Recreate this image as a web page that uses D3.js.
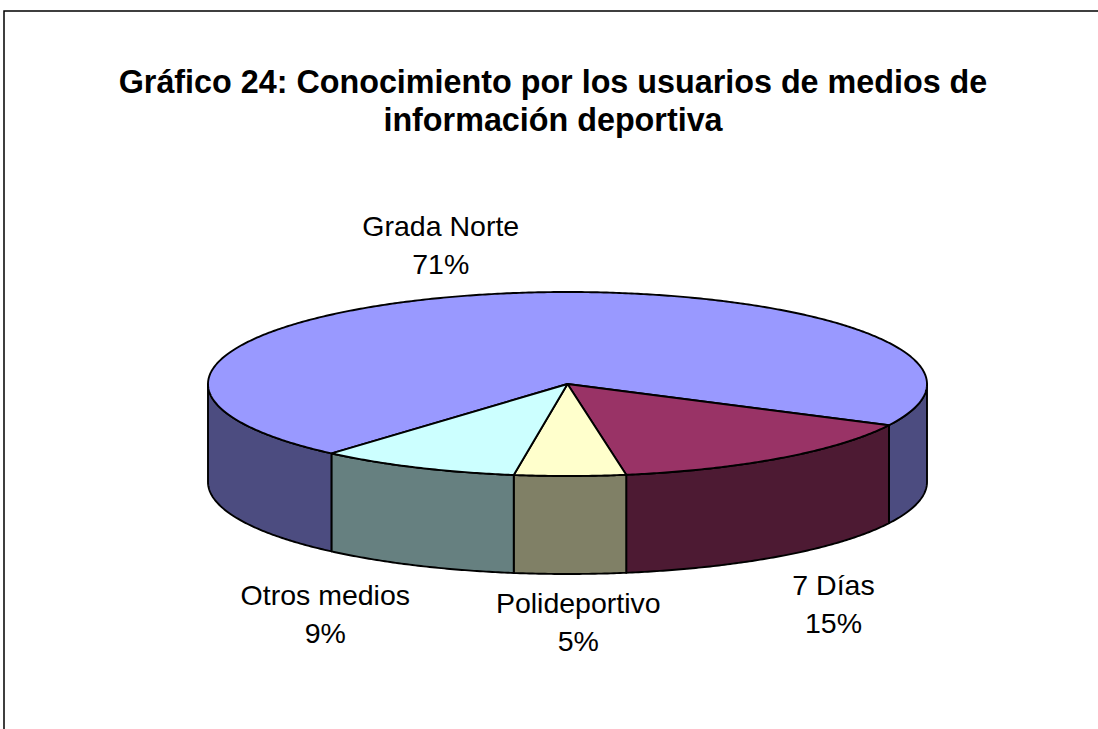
<!DOCTYPE html>
<html><head><meta charset="utf-8">
<script src="https://cdn.jsdelivr.net/npm/d3@7"></script>
<style>html,body{margin:0;padding:0;background:#fff;} svg{display:block;font-family:"Liberation Sans",Arial,sans-serif;}</style>
</head><body><svg id="chart" width="1098" height="729"></svg>
<script>
const categories = ["Grada Norte", "7 Días", "Polideportivo", "Otros medios"];
const values = [71, 15, 5, 9];
const valueLabels = ["71%", "15%", "5%", "9%"];
const topColors = ["#9999FF", "#993366", "#FFFFCC", "#CCFFFF"];
const sideColors = ["#4C4C80", "#4D1A33", "#808066", "#668080"];
const titleLines = ["Gráfico 24: Conocimiento por los usuarios de medios de", "información deportiva"];

const W = 1098, H = 729;
const svg = d3.select("#chart");
svg.append("path").attr("d", `M4,${H} V11 H${W}`).attr("fill", "none").attr("stroke", "#000").attr("stroke-width", 1.5);

const title = svg.append("text").attr("text-anchor", "middle").attr("font-weight", "bold").attr("font-size", 32.3).attr("fill", "#000");
titleLines.forEach((t, i) => title.append("tspan").attr("x", 553).attr("y", 93 + i * 38).text(t));

const cx = 567.5, cy = 384, rx = 359.5, ry = 92, depth = 98;
const start = 221 * Math.PI / 180;
const pie = d3.pie().sort(null).value(d => d).startAngle(start).endAngle(start + 2 * Math.PI);
const arcs = pie(values);
const px = a => cx + rx * Math.sin(a), py = a => cy - ry * Math.cos(a);
function arcPts(a0, a1, dy = 0) {
  const n = Math.max(2, Math.ceil(Math.abs(a1 - a0) / (0.5 * Math.PI / 180)));
  return d3.range(n + 1).map(i => { const a = a0 + (a1 - a0) * i / n; return [px(a), py(a) + dy]; });
}
const line = d3.line();
const sideG = svg.append("g");
arcs.forEach((d, i) => {
  for (let k = 0; k < 2; k++) {
    const lo = Math.PI / 2 + 2 * Math.PI * k, hi = 3 * Math.PI / 2 + 2 * Math.PI * k;
    const a0 = Math.max(d.startAngle, lo), a1 = Math.min(d.endAngle, hi);
    if (a1 > a0) {
      const pts = arcPts(a0, a1).concat(arcPts(a1, a0, depth));
      sideG.append("path").attr("d", line(pts) + "Z").attr("fill", sideColors[i])
        .attr("stroke", "#000").attr("stroke-width", 1.9).attr("stroke-linejoin", "round");
    }
  }
});
const topG = svg.append("g");
arcs.forEach((d, i) => {
  const pts = [[cx, cy]].concat(arcPts(d.startAngle, d.endAngle));
  topG.append("path").attr("d", line(pts) + "Z").attr("fill", topColors[i])
    .attr("stroke", "#000").attr("stroke-width", 1.9).attr("stroke-linejoin", "round");
});

// labels placed from each slice's mid angle
const labelNudge = [[-22, -4], [-54, 11], [7, 2], [-16, 7]];
const lab = svg.append("g").attr("font-size", 28.5).attr("text-anchor", "middle").attr("fill", "#000");
arcs.forEach((d, i) => {
  const m = (d.startAngle + d.endAngle) / 2;
  const k = 1.5;
  const x = cx + rx * k * Math.sin(m) + labelNudge[i][0];
  const y = cy - ry * k * Math.cos(m) + (Math.cos(m) < 0 ? depth : 0) + labelNudge[i][1];
  const t = lab.append("text");
  t.append("tspan").attr("x", x).attr("y", y - 19 + 10).text(categories[i]);
  t.append("tspan").attr("x", x).attr("y", y + 19 + 10).text(valueLabels[i]);
});
</script></body></html>
